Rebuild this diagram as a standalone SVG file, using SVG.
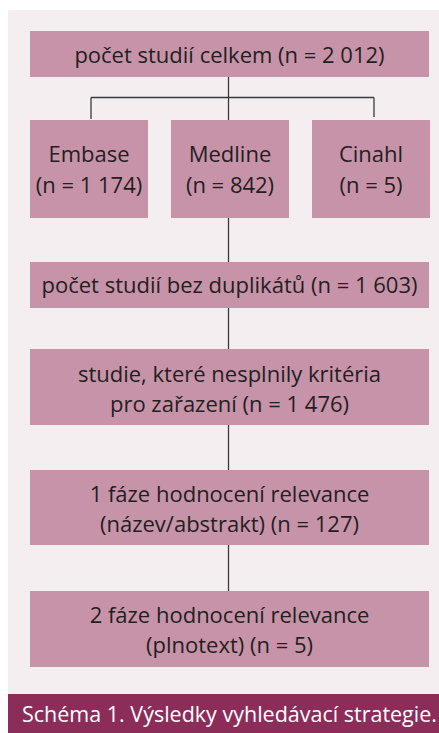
<svg xmlns="http://www.w3.org/2000/svg" width="439" height="733" viewBox="0 0 439 733">
<style>
.bg{fill:#f4eef1}
.box{fill:#c793a9}
.t{font-family:"Open Sans","Liberation Sans",sans-serif;font-size:22px;fill:#231f20;text-anchor:middle}
.cap{font-family:"Open Sans","Liberation Sans",sans-serif;font-size:21.5px;fill:#ffffff}
.ln{stroke:#3a3a3c;stroke-width:1.3;fill:none}
</style>
<rect class="bg" x="8" y="10" width="431" height="685"/>
<rect x="8" y="694" width="431" height="39" fill="#8c2c59"/>
<text class="cap" x="22" y="722">Schéma 1. Výsledky vyhledávací strategie.</text>
<g id="connectors">
<path class="ln" d="M228.5 77V120M91 97.5H374M91 97.5V119M374 97.5V117M228.5 218V262M228.5 308V349M228.5 425V470M228.5 545V591"/>
</g>
<g id="total">
<rect class="box" x="30" y="31" width="399" height="46"/>
<text class="t" x="229.5" y="63">počet studií celkem (n = 2 012)</text>
</g>
<g id="embase">
<rect class="box" x="30" y="120" width="118" height="98"/>
<text class="t" x="89" y="162">Embase</text>
<text class="t" x="89" y="193">(n = 1 174)</text>
</g>
<g id="medline">
<rect class="box" x="171" y="120" width="118" height="98"/>
<text class="t" x="230" y="162">Medline</text>
<text class="t" x="230" y="193">(n = 842)</text>
</g>
<g id="cinahl">
<rect class="box" x="312" y="120" width="118" height="98"/>
<text class="t" x="371" y="162">Cinahl</text>
<text class="t" x="371" y="193">(n = 5)</text>
</g>
<g id="dedup">
<rect class="box" x="30" y="262" width="399" height="46"/>
<text class="t" x="229.5" y="293">počet studií bez duplikátů (n = 1 603)</text>
</g>
<g id="excluded">
<rect class="box" x="30" y="349" width="399" height="76"/>
<text class="t" x="229.5" y="382">studie, které nesplnily kritéria</text>
<text class="t" x="229.5" y="412">pro zařazení (n = 1 476)</text>
</g>
<g id="phase1">
<rect class="box" x="30" y="470" width="399" height="75"/>
<text class="t" x="229.5" y="501.5">1 fáze hodnocení relevance</text>
<text class="t" x="229.5" y="531.5">(název/abstrakt) (n = 127)</text>
</g>
<g id="phase2">
<rect class="box" x="30" y="591" width="399" height="76"/>
<text class="t" x="229.5" y="623">2 fáze hodnocení relevance</text>
<text class="t" x="229.5" y="653">(plnotext) (n = 5)</text>
</g>
</svg>
